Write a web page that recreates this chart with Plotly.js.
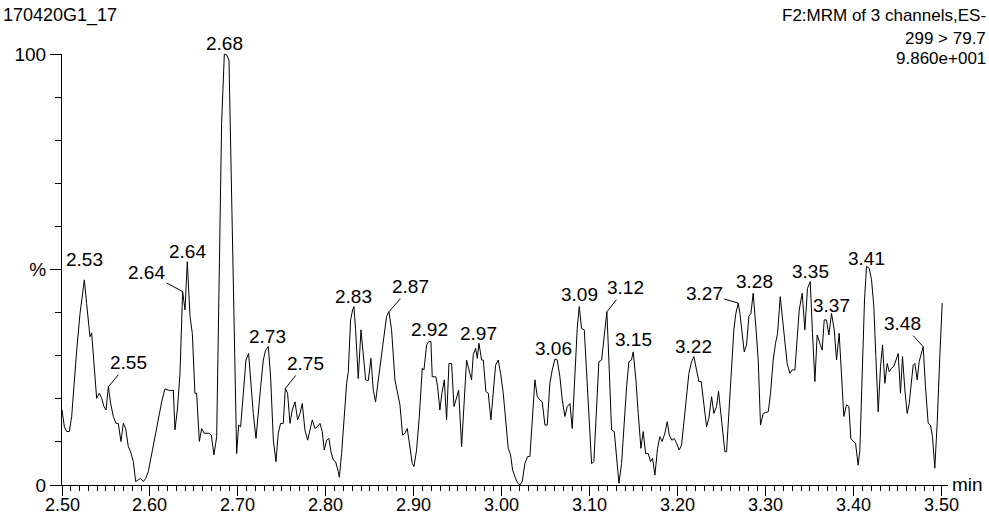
<!DOCTYPE html>
<html>
<head>
<meta charset="utf-8">
<script src="https://cdn.plot.ly/plotly-3.0.1.min.js"></script>
<style>html,body{margin:0;padding:0;background:#fff}#chart{width:989px;height:519px}</style>
</head>
<body>
<div id="chart"></div>
<script>
// Retention time (min)
const times = [
2.5000,2.5027,2.5053,2.5083,2.5110,2.5140,2.5167,2.5205,2.5254,2.5280,2.5307,2.5318,2.5337,2.5367,2.5394,2.5424,2.5451,2.5477,2.5500,2.5527,
2.5553,2.5583,2.5614,2.5640,2.5670,2.5697,2.5723,2.5754,2.5780,2.5811,2.5837,2.5867,2.5894,2.5924,2.5951,2.5981,2.6019,2.6049,2.6076,2.6102,
2.6133,2.6170,2.6208,2.6246,2.6265,2.6284,2.6311,2.6341,2.6371,2.6398,2.6424,2.6455,2.6481,2.6511,2.6530,2.6561,2.6587,2.6617,2.6644,2.6670,
2.6697,2.6727,2.6758,2.6788,2.6814,2.6845,2.6871,2.6898,2.6928,2.6955,2.6985,2.7008,2.7030,2.7061,2.7091,2.7121,2.7148,2.7174,2.7205,2.7231,
2.7258,2.7288,2.7314,2.7345,2.7371,2.7402,2.7432,2.7458,2.7485,2.7515,2.7538,2.7564,2.7591,2.7617,2.7648,2.7678,2.7705,2.7731,2.7761,2.7792,
2.7818,2.7845,2.7875,2.7902,2.7932,2.7958,2.7981,2.8008,2.8034,2.8057,2.8083,2.8110,2.8140,2.8152,2.8178,2.8208,2.8235,2.8254,2.8280,2.8303,
2.8318,2.8337,2.8367,2.8398,2.8424,2.8451,2.8481,2.8511,2.8538,2.8564,2.8595,2.8633,2.8663,2.8689,2.8716,2.8746,2.8784,2.8822,2.8841,2.8871,
2.8898,2.8924,2.8955,2.8981,2.9000,2.9030,2.9061,2.9095,2.9114,2.9144,2.9170,2.9193,2.9208,2.9250,2.9269,2.9295,2.9318,2.9345,2.9371,2.9398,
2.9428,2.9455,2.9477,2.9508,2.9542,2.9568,2.9598,2.9636,2.9655,2.9674,2.9701,2.9720,2.9739,2.9769,2.9788,2.9818,2.9845,2.9875,2.9902,2.9928,
2.9958,2.9985,3.0015,3.0045,3.0072,3.0098,3.0121,3.0148,3.0176,3.0205,3.0231,3.0261,3.0292,3.0318,3.0345,3.0375,3.0402,3.0432,3.0458,3.0489,
3.0515,3.0545,3.0572,3.0602,3.0629,3.0659,3.0686,3.0716,3.0742,3.0773,3.0799,3.0830,3.0856,3.0879,3.0905,3.0936,3.0962,3.0989,3.1019,3.1045,
3.1076,3.1102,3.1133,3.1163,3.1193,3.1220,3.1246,3.1277,3.1303,3.1330,3.1360,3.1386,3.1417,3.1443,3.1473,3.1492,3.1523,3.1549,3.1580,3.1606,
3.1633,3.1663,3.1689,3.1712,3.1739,3.1769,3.1795,3.1822,3.1852,3.1879,3.1902,3.1932,3.1958,3.1985,3.2015,3.2042,3.2068,3.2098,3.2125,3.2155,
3.2182,3.2212,3.2239,3.2265,3.2295,3.2326,3.2352,3.2383,3.2409,3.2439,3.2462,3.2485,3.2515,3.2534,3.2553,3.2583,3.2610,3.2636,3.2659,3.2686,
3.2705,3.2731,3.2754,3.2780,3.2792,3.2807,3.2830,3.2856,3.2886,3.2913,3.2939,3.2970,3.2996,3.3027,3.3053,3.3083,3.3110,3.3133,3.3163,3.3186,
3.3216,3.3242,3.3273,3.3299,3.3330,3.3356,3.3379,3.3413,3.3443,3.3473,3.3504,3.3530,3.3557,3.3583,3.3610,3.3640,3.3663,3.3689,3.3716,3.3746,
3.3777,3.3803,3.3833,3.3860,3.3886,3.3917,3.3943,3.3966,3.3992,3.4019,3.4049,3.4068,3.4098,3.4121,3.4144,3.4174,3.4201,3.4227,3.4250,3.4277,
3.4303,3.4326,3.4352,3.4379,3.4402,3.4428,3.4455,3.4477,3.4504,3.4530,3.4553,3.4580,3.4606,3.4629,3.4655,3.4674,3.4693,3.4720,3.4742,3.4769,
3.4788,3.4814,3.4845,3.4871,3.4894,3.4920,3.4947,3.4977,3.5004
];
// Relative intensity (%)
const intensity = [
17.4,13.5,12.4,12.4,15.9,24.4,31.3,39.8,47.6,42.1,35.2,34.4,35.3,28.2,20.1,21.3,20.1,18.2,17.4,22.8,
18.9,15.9,14.3,14.3,10.1,14.3,13.1,8.9,7.7,5.4,0.8,1.2,1.5,0.8,1.5,3.1,7.3,10.8,13.1,16.6,
19.3,22.3,22.0,21.9,22.0,12.8,17.4,25.9,44.9,40.6,51.8,39.1,35.2,21.3,21.3,10.1,13.1,12.0,12.0,12.0,
11.6,7.0,11.2,50.0,83.9,100,99.8,98.6,67.0,39.1,7.3,13.9,13.5,21.3,29.0,30.5,22.8,16.6,10.8,17.4,
22.8,29.0,31.3,32.1,25.1,10.4,5.4,12.0,14.3,14.3,22.4,21.3,14.3,17.4,19.3,15.1,16.6,18.9,12.8,10.4,
12.4,15.1,13.1,13.5,14.3,12.4,8.1,10.4,10.8,7.7,5.8,5.4,3.1,1.8,7.3,15.1,23.6,26.3,38.3,40.6,
41.4,36.0,24.7,36.0,29.8,24.4,24.2,29.4,22.0,19.3,24.4,30.5,36.0,39.1,40.2,36.0,24.4,20.9,18.6,11.6,
12.0,13.1,8.1,5.0,4.3,8.1,15.9,27.1,26.7,32.5,33.3,33.3,25.1,25.1,22.8,17.4,21.3,24.4,15.1,28.2,
28.2,18.2,19.7,22.0,8.9,19.7,29.0,25.9,24.4,30.2,31.7,29.4,32.9,29.0,29.0,21.7,21.3,15.1,22.0,27.8,
29.0,25.9,21.3,15.1,8.5,7.0,3.5,1.9,0.5,0.0,0.8,5.0,6.6,6.6,15.9,24.4,20.5,19.7,19.3,13.9,
13.9,23.6,26.7,29.2,29.0,25.1,19.7,15.9,18.2,18.9,13.1,27.5,36.3,41.4,36.3,36.0,26.7,14.3,5.0,5.4,
18.2,28.6,29.0,35.2,40.2,26.7,12.8,12.4,6.6,0.4,5.0,14.3,22.8,28.6,29.0,30.9,24.4,16.6,8.5,12.4,
7.3,7.3,5.4,6.2,2.3,8.5,11.2,10.1,12.0,14.7,11.6,10.4,10.8,9.7,8.1,9.3,14.3,20.5,25.9,28.6,
29.8,26.7,24.0,24.0,18.9,13.5,15.5,20.5,16.6,18.2,21.7,17.4,12.0,7.7,7.7,18.2,29.4,36.0,39.8,42.2,
39.8,35.2,30.9,32.5,36.0,39.1,39.8,44.5,36.7,29.0,13.9,16.6,16.8,17.0,21.3,29.0,32.9,35.2,43.7,39.1,
32.9,28.2,25.9,26.7,26.7,34.4,40.6,44.5,36.0,45.6,47.2,35.2,24.0,34.8,32.9,31.3,38.3,38.3,34.8,39.8,
36.0,29.0,35.2,26.7,15.9,18.6,18.2,10.8,10.1,9.7,4.6,8.0,25.9,42.9,50.7,50.3,47.6,41.4,29.8,17.0,
27.5,32.5,23.6,28.2,26.3,27.1,27.5,29.0,30.5,21.3,29.8,22.0,16.6,18.9,25.1,27.8,28.2,24.4,28.6,30.5,
32.1,22.8,14.3,13.9,11.2,3.9,14.3,29.8,42.2
];
// Peak labels
const peakTimes  = [2.5254,2.5527,2.6371,2.6424,2.6845,2.7345,2.7538,2.8318,2.8716,2.9193,2.9739,3.0602,3.0879,3.1193,3.1492,3.2182,3.2686,3.2856,3.3504,3.3746,3.4144,3.4788];
const peakLabels = ["2.53","2.55","2.64","2.64","2.68","2.73","2.75","2.83","2.87","2.92","2.97","3.06","3.09","3.12","3.15","3.22","3.27","3.28","3.35","3.37","3.41","3.48"];
// X tick labels
const xTickVals = [2.50,2.55,2.60,2.65,2.70,2.75,2.80,2.85,2.90,2.95,3.00,3.05,3.10,3.15,3.20,3.25,3.30,3.35,3.40,3.45,3.50];
const xTickText = ["2.50","","2.60","","2.70","","2.80","","2.90","","3.00","","3.10","","3.20","","3.30","","3.40","","3.50"];
// Y tick labels
const yTickVals = [0,50,100];
const yTickText = ["0","%","100"];

// label placement (style): [leader?, dx, dy] in pixels
const labelOffsets = [
 [false,0,20],[true,20,-24],[true,-36,-19],[false,0,10],[false,0,11],[false,-1,10],[true,20,-25],
 [false,0,10],[true,22,-25],[false,-1,12],[false,0,10],[false,-1,11],[false,0,12],[true,19,-24],
 [false,0,12],[false,0,10],[true,-34,-10],[false,1,12],[false,0,10],[false,0,8],[false,0,8],[true,-21,-23]
];

const FONT = 'Arial, "Liberation Sans", sans-serif';
function nearestIndex(t){let b=0;for(let i=1;i<times.length;i++){if(Math.abs(times[i]-t)<Math.abs(times[b]-t))b=i;}return b;}

const annotations = peakTimes.map((t,k)=>{
  const i = nearestIndex(t);
  const o = labelOffsets[k];
  const base = {x: times[i], y: intensity[i], xref:'x', yref:'y', text: peakLabels[k],
    font:{family:FONT,size:19,color:'#000'}};
  if(o[0]){
    return Object.assign(base,{showarrow:true, arrowhead:0, arrowwidth:1, arrowcolor:'#000',
      ax:o[1], ay:o[2], standoff:0, startstandoff:0});
  }
  return Object.assign(base,{showarrow:false, xanchor:'center', yanchor:'middle', xshift:o[1], yshift:o[2]});
});

// x tick labels drawn at the tick positions of the x axis
xTickVals.forEach((v,k)=>{
  if(!xTickText[k]) return;
  annotations.push({x:v, xref:'x', yref:'paper', y:0, xanchor:'center', yanchor:'middle', yshift:-20,
    showarrow:false, text:xTickText[k], font:{family:FONT,size:18,color:'#000'}});
});

annotations.push(
 {xref:'paper',yref:'paper',x:0,y:1,xanchor:'left',yanchor:'middle',xshift:-61,yshift:39,showarrow:false,
  text:'170420G1_17',font:{family:FONT,size:18,color:'#000'}},
 {xref:'paper',yref:'paper',x:1,y:1,xanchor:'right',yanchor:'middle',xshift:40,yshift:39,showarrow:false,
  text:'F2:MRM of 3 channels,ES-',font:{family:FONT,size:17,color:'#000'}},
 {xref:'paper',yref:'paper',x:1,y:1,xanchor:'right',yanchor:'middle',xshift:40,yshift:16,showarrow:false,
  text:'299 &gt; 79.7',font:{family:FONT,size:17,color:'#000'}},
 {xref:'paper',yref:'paper',x:1,y:1,xanchor:'right',yanchor:'middle',xshift:40,yshift:-4,showarrow:false,
  text:'9.860e+001',font:{family:FONT,size:17,color:'#000'}},
 {xref:'paper',yref:'paper',x:1,y:0,xanchor:'left',yanchor:'middle',xshift:2,yshift:1,showarrow:false,
  text:'min',font:{family:FONT,size:19,color:'#000'}}
);

const trace = {x: times, y: intensity, type:'scatter', mode:'lines',
  line:{color:'#000', width:1}, hoverinfo:'skip', cliponaxis:false};

const layout = {
  width:989, height:519,
  margin:{l:62, r:41, t:54, b:34},
  paper_bgcolor:'#fff', plot_bgcolor:'#fff',
  showlegend:false,
  xaxis:{range:[2.5,3.507], showline:true, linecolor:'#000', linewidth:1, showgrid:false, zeroline:false,
    tickmode:'array', tickvals:xTickVals, ticktext:xTickText, showticklabels:false,
    ticks:'outside', ticklen:10, tickwidth:1, tickcolor:'#000',
    minor:{tickmode:'linear', tick0:2.5, dtick:0.01, ticks:'outside', ticklen:5, tickwidth:1, tickcolor:'#000', showgrid:false}},
  yaxis:{range:[0,100], showline:true, linecolor:'#000', linewidth:1, showgrid:false, zeroline:false,
    tickmode:'array', tickvals:yTickVals, ticktext:yTickText, ticks:'outside', ticklen:11, tickwidth:1, tickcolor:'#000',
    tickfont:{family:FONT,size:19,color:'#000'},
    minor:{tickmode:'linear', tick0:0, dtick:10, ticks:'outside', ticklen:6, tickwidth:1, tickcolor:'#000', showgrid:false}},
  annotations: annotations
};

Plotly.newPlot('chart',[trace],layout,{displayModeBar:false, staticPlot:true});
</script>
</body>
</html>
